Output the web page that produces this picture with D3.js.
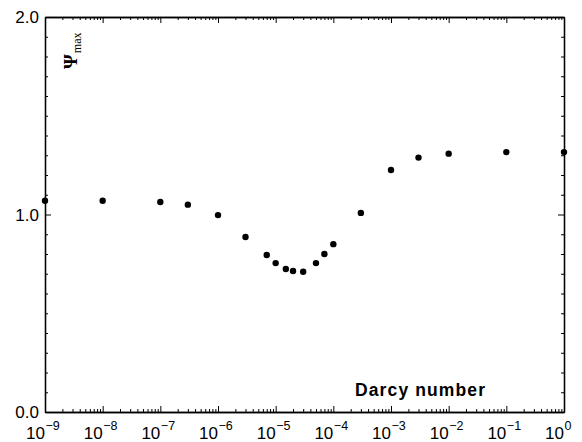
<!DOCTYPE html>
<html>
<head>
<meta charset="utf-8">
<script src="https://cdn.jsdelivr.net/npm/d3@7"></script>
<style>
  html, body { margin: 0; padding: 0; background: #fff; }
  svg { display: block; }
  .axis path, .axis line { stroke: #000; }
  .tick-lbl { font-family: "Liberation Sans", Arial, Helvetica, sans-serif; fill: #000; }
</style>
</head>
<body>
<svg id="chart" width="582" height="442"></svg>
<script>
// Darcy number vs. Psi_max
const darcy = [1e-9, 1e-8, 1e-7, 3e-7, 1e-6, 3e-6, 7e-6, 1e-5, 1.5e-5, 2e-5,
               3e-5, 5e-5, 7e-5, 1e-4, 3e-4, 1e-3, 3e-3, 1e-2, 1e-1, 1];
const psiMax = [1.07, 1.07, 1.063, 1.05, 0.997, 0.886, 0.795, 0.754, 0.724, 0.714,
                0.71, 0.754, 0.80, 0.85, 1.008, 1.225, 1.288, 1.308, 1.316, 1.316];

const xExponents = [-9, -8, -7, -6, -5, -4, -3, -2, -1, 0];
const yTickValues = [0, 1, 2];
const yTickLabels = ["0.0", "1.0", "2.0"];

const L = 45, R = 564, T = 17, B = 412;

const svg = d3.select("#chart");
const x = d3.scaleLog().domain([1e-9, 1]).range([L, R]);
const y = d3.scaleLinear().domain([0, 2]).range([B, T]);

const majorX = xExponents.map((e) => Math.pow(10, e));
const minorX = [];
xExponents.slice(0, -1).forEach((e) => {
  for (let k = 2; k <= 9; k++) minorX.push(k * Math.pow(10, e));
});
const minorY = d3.range(1, 20).map((i) => i / 10).filter((v) => v !== 1);

function addAxis(gen, tr, vals, size) {
  const g = svg.append("g").attr("class", "axis").attr("transform", tr)
    .call(gen.tickValues(vals).tickFormat("").tickSizeInner(-size).tickSizeOuter(0));
  g.selectAll("line").attr("stroke-width", 1);
  g.select("path").attr("stroke-width", 1.3);
  return g;
}

addAxis(d3.axisBottom(x), `translate(0,${B})`, majorX, 6);
addAxis(d3.axisBottom(x), `translate(0,${B})`, minorX, 3);
addAxis(d3.axisTop(x), `translate(0,${T})`, majorX, 6);
addAxis(d3.axisTop(x), `translate(0,${T})`, minorX, 3);
addAxis(d3.axisLeft(y), `translate(${L},0)`, yTickValues, 6);
addAxis(d3.axisLeft(y), `translate(${L},0)`, minorY, 3);
addAxis(d3.axisRight(y), `translate(${R},0)`, yTickValues, 6);
addAxis(d3.axisRight(y), `translate(${R},0)`, minorY, 3);

// y tick labels
svg.append("g").selectAll("text")
  .data(yTickValues)
  .join("text")
  .attr("class", "tick-lbl")
  .attr("x", L - 6)
  .attr("y", (d) => y(d))
  .attr("dy", "0.36em")
  .attr("text-anchor", "end")
  .attr("font-size", 17)
  .text((d, i) => yTickLabels[i]);

// x tick labels: 10 with superscript exponent
const xl = svg.append("g").selectAll("g")
  .data(xExponents)
  .join("g")
  .attr("transform", (e) => `translate(${x(Math.pow(10, e))},0)`);
xl.append("text")
  .attr("class", "tick-lbl")
  .attr("x", 0).attr("y", 439)
  .attr("text-anchor", "end")
  .attr("font-size", 17)
  .text("10");
xl.append("text")
  .attr("class", "tick-lbl")
  .attr("x", 0.5).attr("y", 430)
  .attr("font-size", 12.5)
  .text((e) => (e < 0 ? "\u2212" + (-e) : String(e)));

// points
svg.append("g").selectAll("circle")
  .data(darcy.map((d, i) => [d, psiMax[i]]))
  .join("circle")
  .attr("cx", (d) => x(d[0]))
  .attr("cy", (d) => y(d[1]))
  .attr("r", 3.2)
  .attr("fill", "#000");

// axis titles
svg.append("text")
  .attr("x", 355).attr("y", 395.5)
  .attr("font-family", "Liberation Sans, Arial, Helvetica, sans-serif")
  .attr("font-weight", "bold")
  .attr("font-size", 17.5)
  .attr("textLength", 130)
  .attr("lengthAdjust", "spacing")
  .text("Darcy number");

const yt = svg.append("text")
  .attr("transform", "translate(77,69) rotate(-90)")
  .attr("font-family", "Liberation Serif, Times New Roman, serif");
yt.append("tspan").attr("font-size", 19).attr("font-weight", "bold").text("\u03A8");
yt.append("tspan").attr("font-size", 12).attr("dy", 4).attr("dx", 1).text("max");
</script>
</body>
</html>
